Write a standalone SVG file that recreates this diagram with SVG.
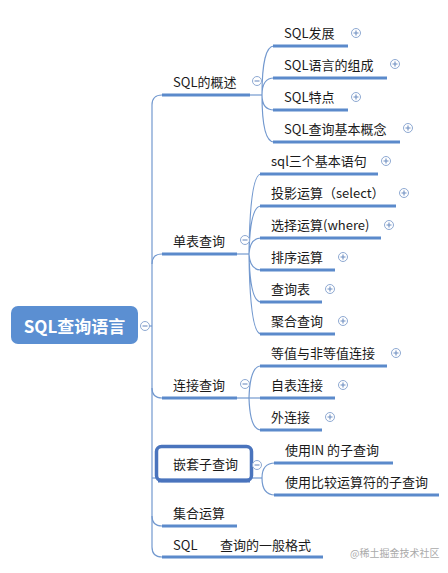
<svg xmlns="http://www.w3.org/2000/svg" width="448" height="573" viewBox="0 0 448 573">
<style>
text{font-family:"Noto Sans CJK SC","Noto Sans",sans-serif;font-size:13px;fill:#1a1a1a}
.root{font-size:17px;font-weight:bold;fill:#fff}
.ul{stroke:#5b8acb;stroke-width:3;fill:none}
.ln{stroke:#7399cf;stroke-width:1.2;fill:none}
.btn circle{fill:#fff;stroke:#8ea9d2;stroke-width:1}
.btn path{stroke:#6f8fc2;stroke-width:1.1}
.wm{font-size:10px;fill:#aaa}
</style>
<defs>
<g id="plus" class="btn"><circle r="4.5"/><path d="M-2.5,0H2.5M0,-2.5V2.5"/></g>
<g id="minus" class="btn"><circle r="4.5"/><path d="M-2.5,0H2.5"/></g>
</defs>
<rect width="448" height="573" fill="#fff"/>

<g id="connectors">
<path class="ln" d="M149,326H152"/>
<path class="ln" d="M162,95Q152,95 152,105L152,547Q152,557 162,557"/>
<path class="ln" d="M162,254Q152,254 152,264"/>
<path class="ln" d="M152,388Q152,398 162,398"/>
<path class="ln" d="M152,516Q152,526 162,526"/>
<path class="ln" d="M152,478H157"/>
<!-- SQL的概述 children -->
<path class="ln" d="M250,95H262"/>
<path class="ln" d="M262,95Q262,46 274,46M262,95Q262,78 274,78M262,95Q262,110 274,110M262,95Q262,142 274,142"/>
<!-- 单表查询 children -->
<path class="ln" d="M237,254H249"/>
<path class="ln" d="M249,254Q250,174 261,174M249,254Q250,206 261,206M249,254Q250,238 261,238M249,254Q250,270 261,270M249,254Q250,302 261,302M249,254Q250,334 261,334"/>
<!-- 连接查询 children -->
<path class="ln" d="M237,398H261"/>
<path class="ln" d="M249,398Q250,366 261,366M249,398Q250,430 261,430"/>
<!-- 嵌套子查询 children -->
<path class="ln" d="M252,478H262"/>
<path class="ln" d="M262,478Q262,463 275,463M262,478Q262,495 275,495"/>
</g>

<g id="root">
<rect x="11" y="306" width="127" height="38" rx="7" fill="#5b8fd2"/>
<text class="root" x="74.5" y="332.5" text-anchor="middle">SQL查询语言</text>
<use href="#minus" x="145" y="326"/>
</g>

<g id="n-overview">
<text x="173" y="87">SQL的概述</text>
<path class="ul" d="M162,95H250"/>
<use href="#minus" x="257" y="81"/>
</g>
<g id="n-dev"><text x="284" y="38">SQL发展</text><path class="ul" d="M273,46H348"/><use href="#plus" x="356" y="33"/></g>
<g id="n-compose"><text x="284" y="70">SQL语言的组成</text><path class="ul" d="M273,78H387"/><use href="#plus" x="395" y="64"/></g>
<g id="n-feature"><text x="284" y="102">SQL特点</text><path class="ul" d="M273,110H348"/><use href="#plus" x="356" y="97"/></g>
<g id="n-concept"><text x="284" y="134">SQL查询基本概念</text><path class="ul" d="M273,142H400"/><use href="#plus" x="408" y="128"/></g>

<g id="n-single">
<text x="173" y="246">单表查询</text>
<path class="ul" d="M162,254H237"/>
<use href="#minus" x="245" y="240"/>
</g>
<g id="n-three"><text x="271" y="166">sql三个基本语句</text><path class="ul" d="M260,174H378"/><use href="#plus" x="386" y="161"/></g>
<g id="n-select"><text x="271" y="198">投影运算（select）</text><path class="ul" d="M260,206H396"/><use href="#plus" x="404" y="193"/></g>
<g id="n-where"><text x="271" y="230">选择运算(where)</text><path class="ul" d="M260,238H381"/><use href="#plus" x="389" y="225"/></g>
<g id="n-sort"><text x="271" y="262">排序运算</text><path class="ul" d="M260,270H335"/><use href="#plus" x="343" y="257"/></g>
<g id="n-table"><text x="271" y="294">查询表</text><path class="ul" d="M260,302H322"/><use href="#plus" x="330" y="289"/></g>
<g id="n-agg"><text x="271" y="326">聚合查询</text><path class="ul" d="M260,334H335"/><use href="#plus" x="343" y="321"/></g>

<g id="n-join">
<text x="173" y="390">连接查询</text>
<path class="ul" d="M162,398H237"/>
<use href="#minus" x="245" y="384"/>
</g>
<g id="n-equi"><text x="271" y="358">等值与非等值连接</text><path class="ul" d="M260,366H387"/><use href="#plus" x="396" y="353"/></g>
<g id="n-self"><text x="271" y="390">自表连接</text><path class="ul" d="M260,398H335"/><use href="#plus" x="343" y="385"/></g>
<g id="n-outer"><text x="271" y="422">外连接</text><path class="ul" d="M260,430H322"/><use href="#plus" x="330" y="417"/></g>

<g id="n-nested">
<rect x="156.5" y="446.5" width="95" height="34" rx="5" fill="#fff" stroke="#4a74bd" stroke-width="3.5"/>
<path d="M158,480.5H250" stroke="#4a74bd" stroke-width="4"/>
<text x="173" y="469">嵌套子查询</text>
<use href="#minus" x="257" y="465"/>
</g>
<g id="n-in"><text x="285" y="455">使用IN 的子查询</text><path class="ul" d="M274,463H393"/></g>
<g id="n-cmp"><text x="285" y="487">使用比较运算符的子查询</text><path class="ul" d="M274,495H439"/></g>

<g id="n-set"><text x="173" y="518">集合运算</text><path class="ul" d="M162,526H237"/></g>
<g id="n-format"><text x="173" y="550" xml:space="preserve">SQL      <tspan x="220">查询的一般格式</tspan></text><path class="ul" d="M162,557H323"/></g>

<text class="wm" x="350" y="557">@稀土掘金技术社区</text>
</svg>
